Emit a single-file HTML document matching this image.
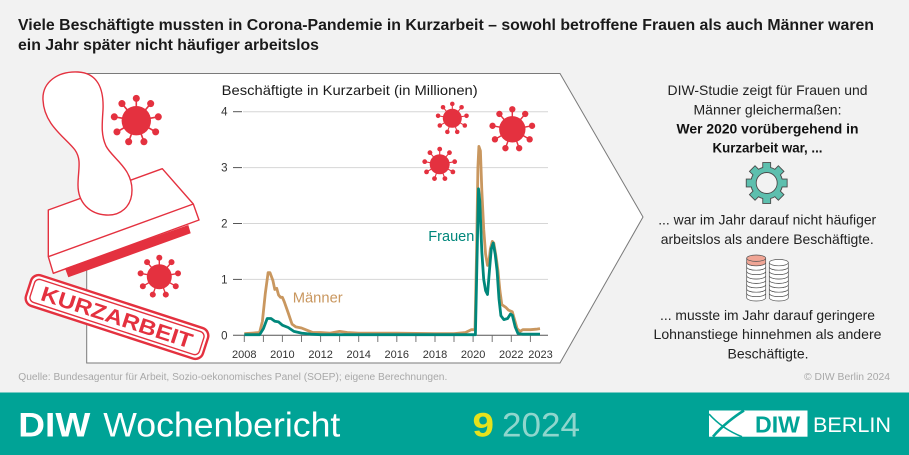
<!DOCTYPE html>
<html><head><meta charset="utf-8"><style>
html,body{margin:0;padding:0;background:#f2f2f2;}
svg{display:block;font-family:"Liberation Sans",sans-serif;}
</style></head><body>
<svg width="909" height="455" viewBox="0 0 909 455" xmlns="http://www.w3.org/2000/svg">
<defs>
<g id="vir">
<g stroke="#e4313f" stroke-width="1.1">
<line x1="0" y1="0" x2="0" y2="-15.2"/><line x1="0" y1="0" x2="9.77" y2="-11.64"/><line x1="0" y1="0" x2="14.97" y2="-2.64"/><line x1="0" y1="0" x2="13.16" y2="7.6"/><line x1="0" y1="0" x2="5.2" y2="14.29"/><line x1="0" y1="0" x2="-5.2" y2="14.29"/><line x1="0" y1="0" x2="-13.16" y2="7.6"/><line x1="0" y1="0" x2="-14.97" y2="-2.64"/><line x1="0" y1="0" x2="-9.77" y2="-11.64"/>
</g>
<g fill="#e4313f">
<circle r="10"/>
<circle cx="0" cy="-15.2" r="2.4"/><circle cx="9.77" cy="-11.64" r="2.4"/><circle cx="14.97" cy="-2.64" r="2.4"/><circle cx="13.16" cy="7.6" r="2.4"/><circle cx="5.2" cy="14.29" r="2.4"/><circle cx="-5.2" cy="14.29" r="2.4"/><circle cx="-13.16" cy="7.6" r="2.4"/><circle cx="-14.97" cy="-2.64" r="2.4"/><circle cx="-9.77" cy="-11.64" r="2.4"/>
</g>
</g>
</defs>
<rect width="909" height="455" fill="#f2f2f2"/>
<!-- title -->
<text x="18" y="30" font-size="15.5" font-weight="bold" fill="#1a1a1a" textLength="856" lengthAdjust="spacingAndGlyphs">Viele Beschäftigte mussten in Corona-Pandemie in Kurzarbeit – sowohl betroffene Frauen als auch Männer waren</text>
<text x="18" y="50" font-size="15.5" font-weight="bold" fill="#1a1a1a" textLength="301" lengthAdjust="spacingAndGlyphs">ein Jahr später nicht häufiger arbeitslos</text>

<!-- panel -->
<polygon points="86.7,73.5 560,73.5 643,217 560,363 86.7,363" fill="#ffffff" stroke="#7a7a7a" stroke-width="1"/>

<!-- chart title -->
<text x="221.7" y="95" font-size="14" fill="#1a1a1a" textLength="256" lengthAdjust="spacingAndGlyphs">Beschäftigte in Kurzarbeit (in Millionen)</text>

<!-- grid -->
<g stroke="#d6d6d6" stroke-width="1">
<line x1="243" y1="111.7" x2="548" y2="111.7"/>
<line x1="243" y1="167.6" x2="548" y2="167.6"/>
<line x1="243" y1="223.5" x2="548" y2="223.5"/>
<line x1="243" y1="279.4" x2="548" y2="279.4"/>
</g>
<g stroke="#555" stroke-width="1">
<line x1="233" y1="111.7" x2="242" y2="111.7"/>
<line x1="233" y1="167.6" x2="242" y2="167.6"/>
<line x1="233" y1="223.5" x2="242" y2="223.5"/>
<line x1="233" y1="279.4" x2="242" y2="279.4"/>
<line x1="233" y1="335.3" x2="548" y2="335.3"/>
</g>
<g stroke="#777" stroke-width="1">
<line x1="244.3" y1="335.3" x2="244.3" y2="342"/><line x1="263.4" y1="335.3" x2="263.4" y2="342"/><line x1="282.4" y1="335.3" x2="282.4" y2="342"/><line x1="301.5" y1="335.3" x2="301.5" y2="342"/><line x1="320.6" y1="335.3" x2="320.6" y2="342"/><line x1="339.6" y1="335.3" x2="339.6" y2="342"/><line x1="358.7" y1="335.3" x2="358.7" y2="342"/><line x1="377.8" y1="335.3" x2="377.8" y2="342"/><line x1="396.8" y1="335.3" x2="396.8" y2="342"/><line x1="415.9" y1="335.3" x2="415.9" y2="342"/><line x1="435" y1="335.3" x2="435" y2="342"/><line x1="454" y1="335.3" x2="454" y2="342"/><line x1="473.1" y1="335.3" x2="473.1" y2="342"/><line x1="492.2" y1="335.3" x2="492.2" y2="342"/><line x1="511.3" y1="335.3" x2="511.3" y2="342"/><line x1="530.4" y1="335.3" x2="530.4" y2="342"/>
</g>
<g font-size="11.5" fill="#333" text-anchor="end">
<text x="227.5" y="115.7">4</text><text x="227.5" y="171.6">3</text><text x="227.5" y="227.5">2</text><text x="227.5" y="283.4">1</text><text x="227.5" y="339.3">0</text>
</g>
<g font-size="11" fill="#333" text-anchor="middle">
<text x="244.3" y="358">2008</text><text x="282.4" y="358">2010</text><text x="320.6" y="358">2012</text><text x="358.7" y="358">2014</text><text x="396.8" y="358">2016</text><text x="435" y="358">2018</text><text x="473.1" y="358">2020</text><text x="511.3" y="358">2022</text><text x="540.5" y="358">2023</text>
</g>

<!-- series -->
<polyline fill="none" stroke="#c9975f" stroke-width="2.8" stroke-linejoin="round" points="244.3,333.6 251.9,333.1 259.6,332.5 262.4,321.3 265.3,293.4 268.1,272.7 270.0,272.7 272.9,280.5 274.8,289.5 276.7,288.3 278.6,295.1 280.5,297.3 282.4,297.3 284.3,301.8 288.2,312.9 292.0,324.1 295.8,326.9 301.5,328.0 307.2,330.3 312.9,332.5 320.6,332.5 330.1,333.1 339.6,331.4 347.3,332.5 358.7,333.1 396.8,333.1 435.0,333.6 454.0,333.6 465.5,332.5 471.2,329.7 475.0,329.7 476.6,251.4 477.9,167.6 478.9,146.4 480.4,150.8 481.8,190.0 483.7,229.1 485.6,254.2 487.5,265.4 488.8,262.6 490.4,248.7 492.3,241.4 493.8,243.1 496.1,257.0 498.0,271.0 499.9,290.6 501.8,304.6 505.7,307.3 508.5,310.1 512.3,311.8 514.2,318.5 517.1,328.6 520.0,331.4 522.8,329.7 530.4,329.7 536.1,329.2 540.0,328.6"/>
<polyline fill="none" stroke="#00877b" stroke-width="2.8" stroke-linejoin="round" points="244.3,334.7 259.6,334.7 263.4,328.6 267.2,318.5 271.0,318.5 274.8,321.3 278.6,321.9 282.4,325.2 288.2,327.5 293.9,331.4 301.5,333.1 311.0,334.2 320.6,334.7 475.4,334.7 476.6,279.4 478.5,188.8 479.8,201.1 481.8,251.5 483.7,279.4 485.6,290.6 487.5,294.5 489.4,271.0 491.3,248.7 493.2,243.1 495.2,254.2 497.1,271.0 499.0,299.0 500.9,315.7 503.8,319.6 507.6,318.5 510.4,314.1 512.3,315.2 515.2,326.9 518.0,333.6 522.8,334.2 540.0,334.2"/>
<text x="292.7" y="302.5" font-size="15" fill="#c9975f" textLength="50" lengthAdjust="spacingAndGlyphs">Männer</text>
<text x="428.3" y="241" font-size="15" fill="#00877b" textLength="46" lengthAdjust="spacingAndGlyphs">Frauen</text>

<!-- viruses -->
<use href="#vir" transform="translate(452.3,118.3) scale(0.95)"/>
<use href="#vir" transform="translate(512.3,129.3) scale(1.32)"/>
<use href="#vir" transform="translate(439.7,164.3) scale(1.0)"/>
<use href="#vir" transform="translate(136.3,120.7) scale(1.47)"/>
<use href="#vir" transform="translate(159.3,276.7) scale(1.25)"/>

<!-- stamp -->
<polygon points="48.3,210 162.3,168.7 193.3,204 199,220 53.3,273.3 48.3,256.7" fill="#ffffff" stroke="#e4313f" stroke-width="1.4" stroke-linejoin="round"/>
<line x1="48.3" y1="256.7" x2="193.3" y2="204" stroke="#e4313f" stroke-width="1.4"/>
<polygon points="65,268.3 188.3,225 190.7,233.3 68.3,277.3" fill="#e4313f"/>
<path d="M 43,100 C 42,82 58,71 78,72 C 97,73 104,88 103,110 C 102,125 101,135 106,146 C 112,158 132,168 132,190 C 132,207 120,216 106,215 C 90,214 78,203 78,185 C 78,170 82,160 75,150 C 66,138 44,125 43,100 Z" fill="#ffffff" stroke="#e4313f" stroke-width="1.4"/>

<!-- KURZARBEIT label -->
<g transform="translate(117,317) rotate(18)">
<rect x="-93" y="-16" width="186" height="32" rx="8" fill="#ffffff" stroke="#e4313f" stroke-width="2.4"/>
<rect x="-89" y="-12" width="178" height="24" rx="5" fill="none" stroke="#e4313f" stroke-width="1.4"/>
<text x="0" y="7.5" font-size="21" font-weight="bold" fill="#e4313f" text-anchor="middle" textLength="158" lengthAdjust="spacingAndGlyphs">KURZARBEIT</text>
</g>

<!-- right text -->
<g font-size="14" fill="#222" text-anchor="middle">
<text x="767.5" y="95" textLength="200" lengthAdjust="spacingAndGlyphs">DIW-Studie zeigt für Frauen und</text>
<text x="767.5" y="114.3" textLength="148" lengthAdjust="spacingAndGlyphs">Männer gleichermaßen:</text>
<text x="767.5" y="133.3" font-weight="bold" fill="#111" textLength="182" lengthAdjust="spacingAndGlyphs">Wer 2020 vorübergehend in</text>
<text x="767.5" y="152.3" font-weight="bold" fill="#111" textLength="110" lengthAdjust="spacingAndGlyphs">Kurzarbeit war, ...</text>
<text x="767.2" y="224.3" textLength="218" lengthAdjust="spacingAndGlyphs">... war im Jahr darauf nicht häufiger</text>
<text x="767.3" y="244" textLength="213" lengthAdjust="spacingAndGlyphs">arbeitslos als andere Beschäftigte.</text>
<text x="767.5" y="320" textLength="215" lengthAdjust="spacingAndGlyphs">... musste im Jahr darauf geringere</text>
<text x="767.5" y="339" textLength="228" lengthAdjust="spacingAndGlyphs">Lohnanstiege hinnehmen als andere</text>
<text x="768" y="358.3" textLength="81" lengthAdjust="spacingAndGlyphs">Beschäftigte.</text>
</g>

<!-- gear -->
<g stroke="#4a4a4a" stroke-width="1.8" fill="#4a4a4a">
<circle cx="766.7" cy="183" r="15.5"/>
<rect x="763.2" y="163" width="7" height="7"/>
<rect x="763.2" y="163" width="7" height="7" transform="rotate(45 766.7 183)"/>
<rect x="763.2" y="163" width="7" height="7" transform="rotate(90 766.7 183)"/>
<rect x="763.2" y="163" width="7" height="7" transform="rotate(135 766.7 183)"/>
<rect x="763.2" y="163" width="7" height="7" transform="rotate(180 766.7 183)"/>
<rect x="763.2" y="163" width="7" height="7" transform="rotate(225 766.7 183)"/>
<rect x="763.2" y="163" width="7" height="7" transform="rotate(270 766.7 183)"/>
<rect x="763.2" y="163" width="7" height="7" transform="rotate(315 766.7 183)"/>
</g>
<g fill="#5dbfae">
<circle cx="766.7" cy="183" r="15.5"/>
<rect x="763.2" y="163" width="7" height="7"/>
<rect x="763.2" y="163" width="7" height="7" transform="rotate(45 766.7 183)"/>
<rect x="763.2" y="163" width="7" height="7" transform="rotate(90 766.7 183)"/>
<rect x="763.2" y="163" width="7" height="7" transform="rotate(135 766.7 183)"/>
<rect x="763.2" y="163" width="7" height="7" transform="rotate(180 766.7 183)"/>
<rect x="763.2" y="163" width="7" height="7" transform="rotate(225 766.7 183)"/>
<rect x="763.2" y="163" width="7" height="7" transform="rotate(270 766.7 183)"/>
<rect x="763.2" y="163" width="7" height="7" transform="rotate(315 766.7 183)"/>
</g>
<circle cx="766.7" cy="183" r="10.5" fill="#f2f2f2" stroke="#4a4a4a" stroke-width="0.9"/>

<!-- coins left -->
<g stroke="#555" stroke-width="0.7" fill="#ffffff">
<path d="M746.7,293.4 v4.4 a9.5,3.2 0 0 0 19,0 v-4.4 z"/><ellipse cx="756.2" cy="293.4" rx="9.5" ry="3.2"/>
<path d="M746.7,289 v4.4 a9.5,3.2 0 0 0 19,0 v-4.4 z"/><ellipse cx="756.2" cy="289" rx="9.5" ry="3.2"/>
<path d="M746.7,284.6 v4.4 a9.5,3.2 0 0 0 19,0 v-4.4 z"/><ellipse cx="756.2" cy="284.6" rx="9.5" ry="3.2"/>
<path d="M746.7,280.2 v4.4 a9.5,3.2 0 0 0 19,0 v-4.4 z"/><ellipse cx="756.2" cy="280.2" rx="9.5" ry="3.2"/>
<path d="M746.7,275.8 v4.4 a9.5,3.2 0 0 0 19,0 v-4.4 z"/><ellipse cx="756.2" cy="275.8" rx="9.5" ry="3.2"/>
<path d="M746.7,271.4 v4.4 a9.5,3.2 0 0 0 19,0 v-4.4 z"/><ellipse cx="756.2" cy="271.4" rx="9.5" ry="3.2"/>
<path d="M746.7,267 v4.4 a9.5,3.2 0 0 0 19,0 v-4.4 z"/><ellipse cx="756.2" cy="267" rx="9.5" ry="3.2"/>
<path d="M746.7,262.6 v4.4 a9.5,3.2 0 0 0 19,0 v-4.4 z"/><ellipse cx="756.2" cy="262.6" rx="9.5" ry="3.2"/>
<path d="M746.7,258.2 v4.4 a9.5,3.2 0 0 0 19,0 v-4.4 z" fill="#f0a595"/><ellipse cx="756.2" cy="258.2" rx="9.5" ry="3.2" fill="#f0a595"/>
</g>
<!-- coins right -->
<g stroke="#555" stroke-width="0.7" fill="#ffffff">
<path d="M769.3,293.4 v4.4 a9.5,3.2 0 0 0 19,0 v-4.4 z"/><ellipse cx="778.8" cy="293.4" rx="9.5" ry="3.2"/>
<path d="M769.3,289 v4.4 a9.5,3.2 0 0 0 19,0 v-4.4 z"/><ellipse cx="778.8" cy="289" rx="9.5" ry="3.2"/>
<path d="M769.3,284.6 v4.4 a9.5,3.2 0 0 0 19,0 v-4.4 z"/><ellipse cx="778.8" cy="284.6" rx="9.5" ry="3.2"/>
<path d="M769.3,280.2 v4.4 a9.5,3.2 0 0 0 19,0 v-4.4 z"/><ellipse cx="778.8" cy="280.2" rx="9.5" ry="3.2"/>
<path d="M769.3,275.8 v4.4 a9.5,3.2 0 0 0 19,0 v-4.4 z"/><ellipse cx="778.8" cy="275.8" rx="9.5" ry="3.2"/>
<path d="M769.3,271.4 v4.4 a9.5,3.2 0 0 0 19,0 v-4.4 z"/><ellipse cx="778.8" cy="271.4" rx="9.5" ry="3.2"/>
<path d="M769.3,267 v4.4 a9.5,3.2 0 0 0 19,0 v-4.4 z"/><ellipse cx="778.8" cy="267" rx="9.5" ry="3.2"/>
<path d="M769.3,262.6 v4.4 a9.5,3.2 0 0 0 19,0 v-4.4 z"/><ellipse cx="778.8" cy="262.6" rx="9.5" ry="3.2"/>
</g>

<!-- source -->
<text x="18.3" y="380" font-size="10" fill="#a8a8a8" textLength="429" lengthAdjust="spacingAndGlyphs">Quelle: Bundesagentur für Arbeit, Sozio-oekonomisches Panel (SOEP); eigene Berechnungen.</text>
<text x="890" y="380" font-size="10" fill="#a8a8a8" text-anchor="end" textLength="86" lengthAdjust="spacingAndGlyphs">© DIW Berlin 2024</text>

<!-- footer -->
<rect x="0" y="392.5" width="909" height="62.5" fill="#00a396"/>
<text x="18.3" y="436.5" font-size="34" font-weight="bold" fill="#ffffff" textLength="72" lengthAdjust="spacingAndGlyphs">DIW</text>
<text x="103.3" y="436.5" font-size="34" fill="#ffffff" textLength="237" lengthAdjust="spacingAndGlyphs">Wochenbericht</text>
<text x="472.5" y="436.5" font-size="34" font-weight="bold" fill="#e6e21c" textLength="21.5" lengthAdjust="spacingAndGlyphs">9</text>
<text x="502" y="436.5" font-size="34" fill="#8fd6cd" textLength="78" lengthAdjust="spacingAndGlyphs">2024</text>
<!-- logo -->
<rect x="709" y="410.5" width="98.5" height="26.2" fill="#ffffff"/>
<path d="M744,410.5 C735,416 722,426 713,436.7" fill="none" stroke="#00a396" stroke-width="2.6"/>
<path d="M709,414 C718,424 730,432 742,436.7" fill="none" stroke="#00a396" stroke-width="1.6"/>
<text x="755" y="432.3" font-size="23" font-weight="bold" fill="#00a396" textLength="45" lengthAdjust="spacingAndGlyphs">DIW</text>
<text x="813" y="432" font-size="21" fill="#ffffff" textLength="78" lengthAdjust="spacingAndGlyphs">BERLIN</text>
</svg>
</body></html>
